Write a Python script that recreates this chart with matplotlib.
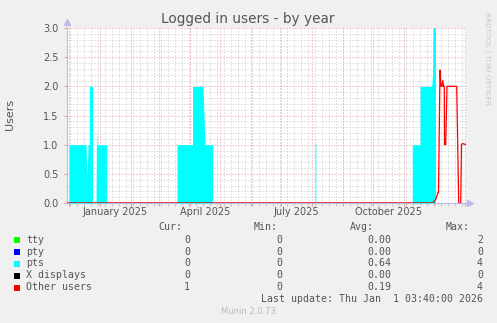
import matplotlib
matplotlib.use("Agg")
import matplotlib.pyplot as plt
import matplotlib.dates as mdates
import pandas as pd
from matplotlib.patches import Rectangle

# ---------------- data ----------------
pts_dates = ["2024-12-01 00:00", "2024-12-01 00:00", "2024-12-18 00:00", "2024-12-19 00:00",
             "2024-12-20 00:00", "2024-12-21 12:00", "2024-12-21 12:00", "2024-12-24 12:00",
             "2024-12-24 12:00", "2024-12-28 00:00", "2024-12-28 12:00", "2024-12-29 00:00",
             "2025-01-07 16:00", "2025-01-07 16:00",
             "2025-03-19 00:00", "2025-03-19 00:00", "2025-04-03 12:00", "2025-04-03 12:00",
             "2025-04-14 00:00", "2025-04-16 00:00", "2025-04-23 16:00", "2025-04-23 16:00",
             "2025-08-04 00:00", "2025-08-04 00:00", "2025-08-04 20:00", "2025-08-04 20:00",
             "2025-11-09 07:00", "2025-11-09 07:00", "2025-11-17 00:00", "2025-11-17 00:00",
             "2025-11-28 16:00", "2025-11-29 12:00", "2025-11-30 00:00", "2025-12-02 12:00",
             "2025-12-02 12:00"]
pts_values = [0, 1.0, 1.0, 0.45, 1.0, 1.0, 2.0, 2.0, 0, 0, 1.3, 1.0, 1.0, 0,
              0, 1.0, 1.0, 2.0, 2.0, 1.0, 1.0, 0,
              0, 1.03, 1.03, 0,
              0, 1.0, 1.0, 2.0, 2.0, 2.2, 3.0, 3.0, 0]

other_dates = ["2024-11-29 00:00", "2025-11-30 00:00", "2025-12-03 00:00", "2025-12-05 00:00",
               "2025-12-05 12:00", "2025-12-07 00:00", "2025-12-08 00:00", "2025-12-09 00:00",
               "2025-12-09 17:00", "2025-12-10 12:00", "2025-12-11 07:00", "2025-12-11 12:00",
               "2025-12-12 17:00", "2025-12-14 00:00", "2025-12-23 17:00", "2025-12-25 17:00",
               "2025-12-27 17:00", "2025-12-28 12:00", "2025-12-29 12:00", "2026-01-02 00:00"]
other_values = [0, 0, 0.07, 0.18, 0.18, 2.28, 2.0, 2.0, 2.1, 2.0, 2.0, 1.0, 1.0, 2.0, 2.0,
                0, 0, 1.0, 1.02, 1.0]

zero_dates = ["2024-11-29 00:00", "2025-11-30 00:00"]
tty_values = [0, 0]
pty_values = [0, 0]
xdisp_values = [0, 0]

series_names = ["tty", "pty", "pts", "X displays", "Other users"]
series_colors = ["#00FF00", "#0000FF", "#00FFFF", "#000000", "#FF0000"]
cur_vals = ["0", "0", "0", "0", "1"]
min_vals = ["0", "0", "0", "0", "0"]
avg_vals = ["0.00", "0.00", "0.64", "0.00", "0.19"]
max_vals = ["2", "0", "4", "0", "4"]

month_labels = ["January 2025", "April 2025", "July 2025", "October 2025"]
month_label_dates = ["2025-01-16 12:00", "2025-04-16 00:00", "2025-07-16 12:00", "2025-10-16 12:00"]
yticks = [0.0, 0.5, 1.0, 1.5, 2.0, 2.5, 3.0]

# ---------------- figure ----------------
W, H = 497, 323
fig = plt.figure(figsize=(W / 100, H / 100), dpi=100, facecolor="#F0F0F0")


def fx(x):
    return x / W


def fy(y):
    return 1 - y / H


L, R, T, B = 67, 466, 28, 203
ax = fig.add_axes([fx(L), fy(B), (R - L) / W, (B - T) / H])
ax.set_facecolor("white")

xmin = pd.Timestamp("2024-11-29 00:00")
xmax = pd.Timestamp("2026-01-02 00:00")
ax.set_xlim(xmin, xmax)
ax.set_ylim(0, 3.0)

# grid
minor_c = "#CACACA"
major_c = "#E4A0A0"
dots = (0, (1, 2))
weeks = pd.date_range(xmin, xmax, freq="W-MON")
months = pd.date_range("2024-12-01", xmax, freq="MS")
for d in weeks:
    ax.axvline(d, color=minor_c, lw=0.72, ls=dots, zorder=0)
for v in [i / 10 for i in range(1, 30)]:
    if abs(v * 2 - round(v * 2)) > 1e-6:
        ax.axhline(v, color=minor_c, lw=0.72, ls=dots, zorder=0)
for d in months:
    ax.axvline(d, color=major_c, lw=0.72, ls=dots, zorder=0.5)
for v in yticks[1:]:
    ax.axhline(v, color=major_c, lw=0.72, ls=dots, zorder=0.5)

# series
zd = pd.to_datetime(zero_dates)
ax.plot(zd, tty_values, color=series_colors[0], lw=0.9, zorder=2)
ax.plot(zd, pty_values, color=series_colors[1], lw=0.9, zorder=2)
pd_ = pd.to_datetime(pts_dates)
ax.fill_between(pd_, 0, pts_values, color=series_colors[2], lw=0, zorder=3)
ax.plot(zd, xdisp_values, color=series_colors[3], lw=0.9, zorder=4)
ax.plot(pd.to_datetime(other_dates), other_values, color=series_colors[4], lw=0.9, zorder=5)

# axes styling
axis_c = "#BCBCEC"
for s in ["top", "right"]:
    ax.spines[s].set_visible(False)
ax.spines["left"].set_color(axis_c)
ax.spines["bottom"].set_color(axis_c)
ax.spines["left"].set_linewidth(0.8)
ax.spines["bottom"].set_linewidth(0.8)
ax.spines["bottom"].set_zorder(1)
ax.plot([0], [1.035], marker="^", color=axis_c, ms=5, transform=ax.transAxes, clip_on=False)
ax.plot([1.01], [0], marker=">", color=axis_c, ms=5, transform=ax.transAxes, clip_on=False)

ax.set_xticks(months)
ax.set_xticklabels([])
ax.set_xticks(weeks, minor=True)
ax.tick_params(axis="x", which="major", length=2.5, color=major_c, width=0.8)
ax.tick_params(axis="x", which="minor", length=2, color="#C8C8C8", width=0.8)
ax.set_yticks(yticks)
ax.set_yticklabels(["%.1f" % v for v in yticks], fontsize=7, color="#555555")
ax.tick_params(axis="y", which="major", length=2, color=major_c, width=0.8, pad=4)

for lab, d in zip(month_labels, month_label_dates):
    ax.text(pd.Timestamp(d), -(212 - B) / (B - T), lab, transform=ax.get_xaxis_transform(),
            ha="center", va="center", fontsize=7, color="#555555")

# titles
fig.text(fx(248), fy(19), "Logged in users - by year", ha="center", va="center",
         fontsize=9.8, color="#555555")
fig.text(fx(10), fy(114), "Users", rotation=90, ha="center", va="center", fontsize=8, color="#555555")
fig.text(fx(487), fy(58), "RRDTOOL / TOBI OETIKER", rotation=270, ha="center", va="center",
         fontsize=5.2, color="#C8C8C8")

# legend table
mono = "DejaVu Sans Mono"
fs = 7.1
tc = "#555555"
fig.text(fx(182), fy(227), "Cur:", ha="right", va="center", family=mono, fontsize=fs, color=tc)
fig.text(fx(278), fy(227), "Min:", ha="right", va="center", family=mono, fontsize=fs, color=tc)
fig.text(fx(374), fy(227), "Avg:", ha="right", va="center", family=mono, fontsize=fs, color=tc)
fig.text(fx(470), fy(227), "Max:", ha="right", va="center", family=mono, fontsize=fs, color=tc)
row_y = [240, 252, 263.5, 275.5, 287.5]
for i, name in enumerate(series_names):
    y = row_y[i]
    fig.patches.append(Rectangle((fx(14), fy(y + 3)), 6 / W, 6 / H, transform=fig.transFigure,
                                 facecolor=series_colors[i], edgecolor="none"))
    fig.text(fx(26), fy(y), name, ha="left", va="center", family=mono, fontsize=fs, color=tc)
    fig.text(fx(190), fy(y), cur_vals[i], ha="right", va="center", family=mono, fontsize=fs, color=tc)
    fig.text(fx(282), fy(y), min_vals[i], ha="right", va="center", family=mono, fontsize=fs, color=tc)
    fig.text(fx(391), fy(y), avg_vals[i], ha="right", va="center", family=mono, fontsize=fs, color=tc)
    fig.text(fx(483), fy(y), max_vals[i], ha="right", va="center", family=mono, fontsize=fs, color=tc)
fig.text(fx(483), fy(299.5), "Last update: Thu Jan  1 03:40:00 2026", ha="right", va="center",
         family=mono, fontsize=fs, color=tc)
fig.text(fx(248), fy(312), "Munin 2.0.73", ha="center", va="center", fontsize=6, color="#BBBBBB")

fig.savefig("out.png", dpi=100, facecolor=fig.get_facecolor())
